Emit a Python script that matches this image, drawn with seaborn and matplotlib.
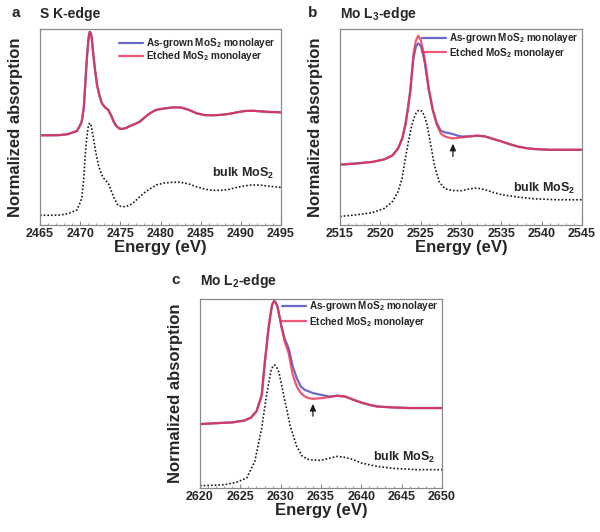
import matplotlib
matplotlib.use("Agg")
import matplotlib.pyplot as plt
from matplotlib.ticker import MultipleLocator
import seaborn as sns

sns.set_theme(style="ticks")
plt.rcParams['font.family'] = ['Liberation Sans', 'DejaVu Sans']
plt.rcParams['font.weight'] = 'bold'
plt.rcParams['mathtext.fontset'] = 'custom'
plt.rcParams['mathtext.rm'] = 'Liberation Sans:bold'
plt.rcParams['mathtext.it'] = 'Liberation Sans:bold'
plt.rcParams['mathtext.bf'] = 'Liberation Sans:bold'

## Data (normalized absorption) ##

# S K-edge
e_a = [2465, 2466.5, 2467.5, 2468.5, 2469.6, 2470.0, 2470.2, 2470.45, 2470.7, 2470.85, 2471.0,
       2471.1, 2471.2, 2471.35, 2471.45, 2471.6, 2471.85, 2472.1, 2472.4, 2472.7, 2473.1, 2473.5,
       2473.9, 2474.2, 2474.5, 2474.85, 2475.2, 2475.7, 2476.2, 2476.8, 2477.4, 2478.0, 2478.5,
       2479.0, 2479.5, 2480.5, 2481.5, 2482.5, 2483.5, 2484.5, 2485.5, 2486.5, 2487.5, 2488.5,
       2489.5, 2490.5, 2491.5, 2492.5, 2493.5, 2495]
grown_a = [0.458, 0.458, 0.459, 0.464, 0.48, 0.51, 0.53, 0.60, 0.765, 0.86, 0.935,
           0.97, 0.986, 0.975, 0.95, 0.884, 0.79, 0.714, 0.66, 0.621, 0.60, 0.587,
           0.555, 0.525, 0.505, 0.493, 0.49, 0.495, 0.505, 0.515, 0.527, 0.548, 0.565,
           0.578, 0.588, 0.595, 0.600, 0.600, 0.588, 0.570, 0.561, 0.560, 0.562, 0.567,
           0.575, 0.582, 0.583, 0.580, 0.577, 0.575]
etched_a = grown_a
e_bulk_a = [2465, 2466.5, 2467.5, 2468.5, 2469.6, 2470.2, 2470.45, 2470.6, 2470.8, 2471.0, 2471.1,
            2471.25, 2471.4, 2471.6, 2471.9, 2472.3, 2472.7, 2473.0, 2473.3, 2473.6, 2473.9,
            2474.2, 2474.7, 2475.2, 2475.7, 2476.2, 2476.8, 2477.4, 2478.0, 2478.5, 2479.5,
            2480.5, 2481.5, 2482.5, 2483.5, 2484.5, 2485.5, 2486.5, 2487.5, 2488.5, 2489.5,
            2490.5, 2491.5, 2492.5, 2493.5, 2495]
bulk_a = [0.05, 0.05, 0.051, 0.058, 0.077, 0.136, 0.24, 0.34, 0.44, 0.50, 0.515,
          0.52, 0.50, 0.455, 0.38, 0.30, 0.255, 0.235, 0.222, 0.205, 0.17,
          0.14, 0.10, 0.093, 0.095, 0.102, 0.12, 0.144, 0.165, 0.18, 0.205,
          0.215, 0.218, 0.218, 0.21, 0.195, 0.183, 0.177, 0.177, 0.182, 0.192,
          0.200, 0.205, 0.203, 0.198, 0.192]

# Mo L3-edge
e_b = [2515, 2517, 2519, 2520.5, 2521.5, 2522.2, 2522.7, 2523.1, 2523.4, 2523.7, 2524.1, 2524.4,
       2524.7, 2525.0, 2525.25, 2525.5, 2525.75, 2526.0, 2526.5, 2527.0, 2527.5, 2528.0, 2528.5,
       2529.0, 2529.5, 2530.0, 2531.0, 2532.0, 2533.0, 2534.0, 2535.0, 2536.0, 2537.0, 2538.0,
       2539.0, 2541.0, 2543.0, 2545.0]
grown_b = [0.308, 0.314, 0.322, 0.335, 0.355, 0.391, 0.44, 0.51, 0.59, 0.68, 0.85, 0.91,
           0.927, 0.915, 0.88, 0.83, 0.76, 0.69, 0.588, 0.52, 0.481, 0.473, 0.469,
           0.464, 0.457, 0.452, 0.452, 0.456, 0.452, 0.439, 0.427, 0.413, 0.401, 0.393,
           0.388, 0.384, 0.384, 0.384]
etched_b = [0.308, 0.314, 0.322, 0.335, 0.355, 0.391, 0.44, 0.51, 0.59, 0.68, 0.87, 0.94,
            0.966, 0.945, 0.90, 0.845, 0.775, 0.699, 0.585, 0.512, 0.466, 0.452, 0.446,
            0.442, 0.444, 0.447, 0.452, 0.456, 0.452, 0.439, 0.427, 0.413, 0.401, 0.393,
            0.388, 0.384, 0.384, 0.384]
e_bulk_b = [2515, 2517, 2519, 2520.5, 2521.5, 2522.2, 2522.7, 2523.1, 2523.5, 2523.9, 2524.2,
            2524.45, 2524.7, 2524.9, 2525.1, 2525.3, 2525.55, 2525.8, 2526.2, 2526.7, 2527.3,
            2528.0, 2529.0, 2530.0, 2531.0, 2532.0, 2533.0, 2534.0, 2535.0, 2537.0, 2539.0,
            2542.0, 2545.0]
bulk_b = [0.044, 0.052, 0.063, 0.085, 0.12, 0.17, 0.24, 0.34, 0.43, 0.51, 0.55,
          0.572, 0.584, 0.587, 0.582, 0.57, 0.545, 0.51, 0.42, 0.306, 0.22,
          0.185, 0.176, 0.175, 0.184, 0.189, 0.180, 0.167, 0.155, 0.143, 0.134,
          0.129, 0.129]

# Mo L2-edge
e_c = [2620, 2622, 2624, 2625.5, 2626.3, 2627.0, 2627.65, 2628.05, 2628.5, 2628.75, 2628.95,
       2629.2, 2629.4, 2629.6, 2629.85, 2630.1, 2630.5, 2631.0, 2631.5, 2632.0, 2632.5, 2633.0,
       2633.5, 2634.0, 2635.0, 2636.0, 2637.0, 2638.0, 2639.0, 2640.0, 2641.0, 2642.0, 2644.0,
       2646.0, 2648.0, 2650.0]
grown_c = [0.338, 0.343, 0.347, 0.357, 0.372, 0.405, 0.49, 0.669, 0.845, 0.92, 0.97,
           0.99, 0.98, 0.96, 0.91, 0.854, 0.79, 0.739, 0.643, 0.581, 0.537, 0.519,
           0.511, 0.502, 0.493, 0.484, 0.488, 0.484, 0.467, 0.452, 0.440, 0.431, 0.426,
           0.423, 0.423, 0.423]
etched_c = [0.338, 0.343, 0.347, 0.357, 0.372, 0.405, 0.49, 0.669, 0.845, 0.92, 0.97,
            0.99, 0.98, 0.96, 0.91, 0.854, 0.775, 0.713, 0.599, 0.537, 0.502, 0.484,
            0.475, 0.472, 0.475, 0.481, 0.488, 0.484, 0.467, 0.452, 0.440, 0.431, 0.426,
            0.423, 0.423, 0.423]
e_bulk_c = [2620, 2622, 2623.1, 2624.5, 2625.8, 2626.8, 2627.65, 2628.26, 2628.8, 2629.05,
            2629.25, 2629.5, 2629.8, 2630.5, 2631.2, 2632.0, 2632.7, 2633.5, 2635.0, 2636.0,
            2637.0, 2638.0, 2639.0, 2640.0, 2642.0, 2644.0, 2647.0, 2650.0]
bulk_c = [0.012, 0.015, 0.018, 0.03, 0.053, 0.141, 0.317, 0.493, 0.62, 0.645,
          0.651, 0.64, 0.61, 0.467, 0.326, 0.22, 0.167, 0.15, 0.146, 0.157,
          0.167, 0.162, 0.15, 0.132, 0.114, 0.104, 0.097, 0.097]

label_grown = r"As-grown MoS$_2$ monolayer"
label_etched = r"Etched MoS$_2$ monolayer"

c_grown = "#6a6acb"
c_etched = "#ec2d50"
c_spine = "#8a8a8a"


def draw_panel(ax, e, grown, etched, e_bulk, bulk, xlim, xticks, leg_anchor, leg_space,
               bulk_y, arrow=None):
    sns.lineplot(x=e, y=grown, ax=ax, color=c_grown, lw=1.6, label=label_grown)
    sns.lineplot(x=e, y=etched, ax=ax, color=c_etched, lw=1.6, alpha=0.8, label=label_etched)
    sns.lineplot(x=e_bulk, y=bulk, ax=ax, color="k", lw=1.2, ls=(0, (1, 1.2)))
    ax.set_xlim(xlim)
    ax.set_ylim(0, 1)
    ax.set_xticks(xticks)
    ax.xaxis.set_minor_locator(MultipleLocator(1))
    ax.set_yticks([])
    ax.tick_params(axis='x', which='major', direction='in', length=3, width=0.8,
                   color=c_spine, labelsize=9, pad=2)
    ax.tick_params(axis='x', which='minor', direction='in', length=1.5, width=0.6, color=c_spine)
    for s in ax.spines.values():
        s.set_color(c_spine)
        s.set_linewidth(0.9)
    ax.set_xlabel("Energy (eV)", fontsize=12, fontweight='bold', labelpad=0)
    ax.set_ylabel("Normalized absorption", fontsize=12, fontweight='bold', labelpad=12)
    h = ax.get_lines()[:2]
    ax.legend(handles=h, labels=[label_grown, label_etched], loc='upper right',
              bbox_to_anchor=leg_anchor, frameon=False, fontsize=7.2, handlelength=2.4,
              handletextpad=0.3, labelspacing=leg_space, borderaxespad=0.2)
    ax.text(0.97, bulk_y, r"bulk MoS$_2$", transform=ax.transAxes, ha='right', va='center',
            fontsize=9)
    if arrow is not None:
        ax.annotate('', xy=(arrow[0], arrow[1]), xytext=(arrow[0], arrow[2]),
                    arrowprops=dict(arrowstyle='-|>,head_length=0.4,head_width=0.18',
                                    color='k', lw=0.9, mutation_scale=10,
                                    shrinkA=0, shrinkB=0))


fig = plt.figure(figsize=(6, 5.32), dpi=100)
ax_a = fig.add_axes([0.0667, 0.577, 0.4017, 0.3684])
ax_b = fig.add_axes([0.5667, 0.577, 0.4033, 0.3684])
ax_c = fig.add_axes([0.3333, 0.0827, 0.4033, 0.3553])

draw_panel(ax_a, e_a, grown_a, etched_a, e_bulk_a, bulk_a, (2465, 2495),
           [2465, 2470, 2475, 2480, 2485, 2490, 2495], (1.0, 0.995), -0.08, 0.265)
draw_panel(ax_b, e_b, grown_b, etched_b, e_bulk_b, bulk_b, (2515, 2545),
           [2515, 2520, 2525, 2530, 2535, 2540, 2545], (1.01, 1.02), 0.05, 0.185,
           arrow=(2529, 0.415, 0.35))
draw_panel(ax_c, e_c, grown_c, etched_c, e_bulk_c, bulk_c, (2620, 2650),
           [2620, 2625, 2630, 2635, 2640, 2645, 2650], (1.01, 1.03), 0.12, 0.16,
           arrow=(2634, 0.445, 0.38))

fig.text(0.02, 0.975, "a", fontsize=11, fontweight='bold', va='center')
fig.text(0.0667, 0.973, "S K-edge", fontsize=10, fontweight='bold', va='center')
fig.text(0.513, 0.975, "b", fontsize=11, fontweight='bold', va='center')
fig.text(0.5667, 0.973, r"Mo L$_3$-edge", fontsize=10, fontweight='bold', va='center')
fig.text(0.285, 0.474, "c", fontsize=11, fontweight='bold', va='center')
fig.text(0.3333, 0.472, r"Mo L$_2$-edge", fontsize=10, fontweight='bold', va='center')

fig.savefig("out.png", dpi=100)
